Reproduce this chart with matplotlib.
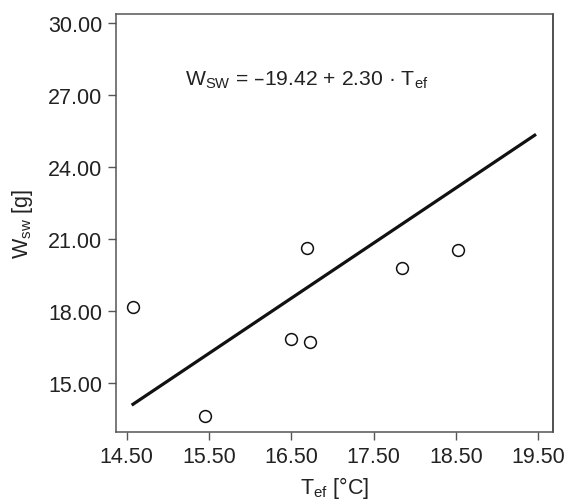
import numpy as np
import matplotlib.pyplot as plt

plt.rcParams['font.family'] = 'Liberation Sans'
plt.rcParams['mathtext.default'] = 'regular'

# measured points
t_ef = [14.57, 15.455, 16.49, 16.73, 16.69, 17.84, 18.52]
w_sw = [18.16, 13.60, 16.82, 16.70, 20.63, 19.80, 20.53]

# regression line from the printed equation
intercept = -19.42
slope = 2.30
line_x = [14.56, 19.47]

x_ticks = [14.5, 15.5, 16.5, 17.5, 18.5, 19.5]
y_ticks = [15, 18, 21, 24, 27, 30]

txt = '#222222'
spine = '#555555'

fig = plt.figure(figsize=(5.66, 5.02), dpi=100)
ax = fig.add_axes([0.205, 0.138, 0.7726, 0.832])

lx = np.array(line_x)
ax.plot(lx, intercept + slope * lx, color='#111111', lw=2.3, solid_capstyle='butt', zorder=2)
ax.plot(t_ef, w_sw, 'o', ms=8.5, mfc='white', mec='#111111', mew=1.1, zorder=3)

ax.set_xlim(14.37, 19.68)
ax.set_ylim(12.96, 30.375)
ax.set_xticks(x_ticks)
ax.set_yticks(y_ticks)
ax.set_xticklabels([f'{v:.2f}' for v in x_ticks])
ax.set_yticklabels([f'{v:.2f}' for v in y_ticks])
ax.tick_params(direction='out', length=6, width=1, color=spine,
               labelsize=15.5, labelcolor=txt, pad=4)

for s in ax.spines.values():
    s.set_color(spine)
    s.set_linewidth(1.1)
ax.spines['right'].set_color('#222222')

ax.text(16.69, 27.66, r'W$_{SW}$ = –19.42 + 2.30 · T$_{ef}$',
        ha='center', va='center', fontsize=15.2, color=txt)

ax.set_xlabel(r'T$_{ef}$ [°C]', fontsize=15.5, color=txt, labelpad=5)
ax.set_ylabel(r'W$_{sw}$ [g]', fontsize=15.5, color=txt, labelpad=9)

fig.savefig('out.png', dpi=100)
